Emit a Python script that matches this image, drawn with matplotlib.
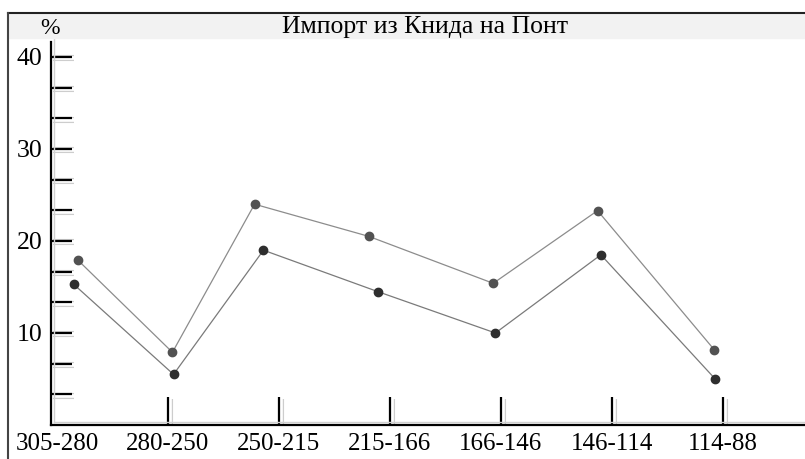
import matplotlib
matplotlib.use('Agg')
import matplotlib.pyplot as plt
import matplotlib.patheffects as pe
from matplotlib.patches import Rectangle
from matplotlib.lines import Line2D

# данные
periods = ['305-280', '280-250', '250-215', '215-166', '166-146', '146-114', '114-88']
x_upper = [0.19, 1.04, 1.78, 2.81, 3.93, 4.87, 5.92]
x_lower = [0.15, 1.05, 1.86, 2.89, 3.95, 4.90, 5.93]
upper = [17.9, 7.9, 24.0, 20.5, 15.4, 23.3, 8.2]
lower = [15.3, 5.5, 19.0, 14.5, 10.0, 18.5, 5.0]
y_labels = [10, 20, 30, 40]

plt.rcParams['font.family'] = ['Liberation Serif', 'DejaVu Serif']

fig = plt.figure(figsize=(8.05, 4.59), dpi=100)
ax = fig.add_axes([51/805, 34/459, 754/805, 383/459])
ax.patch.set_alpha(0)

ax.set_xlim(-0.054, 6.739)
ax.set_ylim(0, 41.63)

# серые контуры у осей и делений
shadow = [pe.Stroke(linewidth=4.4, foreground='#cdcdcd', offset=(1.2, -1.0)),
          pe.Stroke(linewidth=2.6, foreground='white', offset=(1.2, -1.0)),
          pe.Normal()]
for s in ['top', 'right']:
    ax.spines[s].set_visible(False)
for s in ['left', 'bottom']:
    ax.spines[s].set_linewidth(1.6)
    ax.spines[s].set_color('black')
    ax.spines[s].set_path_effects([pe.Stroke(linewidth=1.0, foreground='#d0d0d0', offset=(2, 2.5)),
                                   pe.Normal()])

# ось y
ax.set_yticks(y_labels)
ax.set_yticklabels([str(v) for v in y_labels])
ax.set_yticks([v - d for v in y_labels for d in (10/3, 20/3)], minor=True)
ax.tick_params(axis='y', which='both', direction='in', length=15, width=1.6,
               labelsize=18.5, pad=6)

# ось x
ax.set_xticks(range(len(periods)))
ax.set_xticklabels(periods)
ax.tick_params(axis='x', direction='in', length=20, width=1.6, labelsize=18, pad=6)

for t in ax.yaxis.get_major_ticks() + ax.yaxis.get_minor_ticks() + ax.xaxis.get_major_ticks():
    t.tick1line.set_path_effects(shadow)
ax.xaxis.get_major_ticks()[0].tick1line.set_visible(False)

# линии
ax.plot(x_upper, upper, '-', color='#8c8c8c', lw=0.9, marker='o', ms=6,
        mfc='#525252', mec='#525252', clip_on=False)
ax.plot(x_lower, lower, '-', color='#7a7a7a', lw=0.9, marker='o', ms=6,
        mfc='#2e2e2e', mec='#2e2e2e', clip_on=False)

# рамка и заголовок
fig.patches.append(Rectangle((8/805, 1 - 38/459), 1, 24/459, transform=fig.transFigure,
                             color='#f2f2f2', zorder=0))
fig.add_artist(Line2D([8/805, 1], [1 - 13/459] * 2, color='#222222', lw=1.5))
fig.add_artist(Line2D([8/805] * 2, [0, 1 - 13/459], color='#444444', lw=1.5))

fig.text(0.528, 1 - 27/459, 'Импорт из Книда на Понт', ha='center', va='center', fontsize=18.5)
fig.text(50/805, 1 - 28/459, '%', ha='center', va='center', fontsize=17)

fig.savefig('out.png', dpi=100)
